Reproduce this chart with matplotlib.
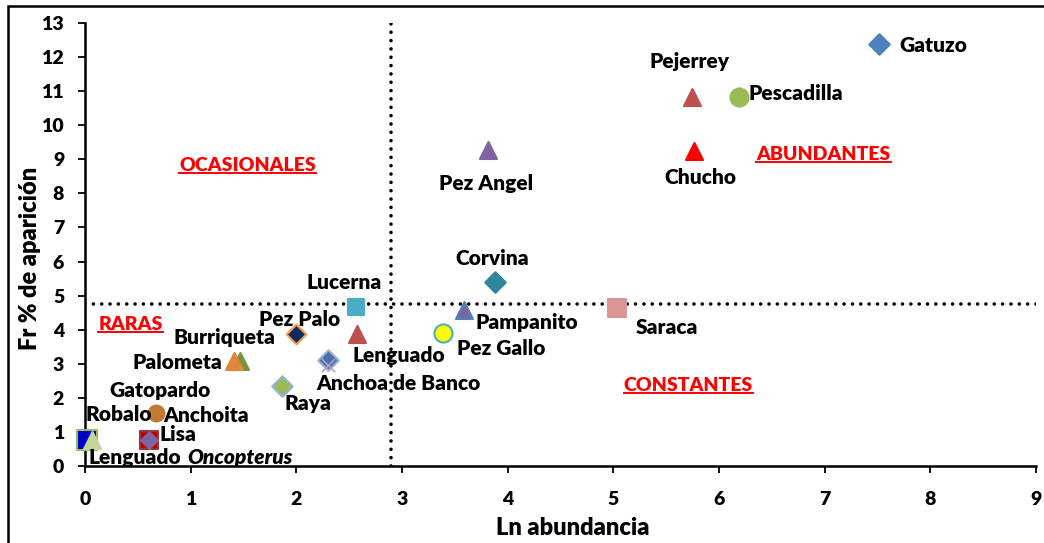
import matplotlib
matplotlib.use("Agg")
import matplotlib.pyplot as plt
from matplotlib.lines import Line2D
from matplotlib.patches import Rectangle

plt.rcParams['font.family'] = ['Lato', 'DejaVu Sans']

# datos: Ln abundancia vs frecuencia de aparición
especies = ['Gatuzo', 'Pejerrey', 'Pescadilla', 'Chucho', 'Pez Angel', 'Corvina',
            'Lucerna', 'Pampanito', 'Saraca', 'Pez Gallo', 'Pez Palo', 'Lenguado',
            'Anchoa de Banco', '', 'Raya', 'Burriqueta', 'Palometa', 'Gatopardo',
            'Lisa', '', 'Lenguado Oncopterus']
ln_abund = [7.51, 5.74, 6.19, 5.76, 3.81, 3.88,
            2.56, 3.59, 5.03, 3.39, 2.00, 2.57,
            2.30, 2.30, 1.86, 1.47, 1.41, 0.67,
            0.61, 0.02, 0.07]
frec = [12.38, 10.83, 10.83, 9.24, 9.27, 5.40,
        4.67, 4.58, 4.64, 3.90, 3.87, 3.87,
        3.11, 2.95, 2.35, 3.08, 3.08, 1.56,
        0.77, 0.77, 0.77]

limite_x = 2.9
limite_y = 4.75

# estilo de cada marcador
marcas = ['D', '^', 'o', '^', '^', 'D',
          's', '^', 's', 'o', 'D', '^',
          'D', 'x', 'D', '^', '^', 'o',
          's', 's', '^']
relleno = ['#4F81BD', '#C0504D', '#9BBB59', '#FF0000', '#8064A2', '#31859C',
           '#4BACC6', '#8064A2', '#D99694', '#FFFF00', '#0F2A5F', '#C0504D',
           '#4A70A8', '#B3A2C7', '#9BBB59', '#77933C', '#E0873A', '#C27A30',
           '#C00000', '#0000CC', '#C3D69B']
borde = ['#4F81BD', '#C0504D', '#9BBB59', '#FF0000', '#8064A2', '#31859C',
         '#4BACC6', '#4F81BD', '#D99694', '#4BACC6', '#F79646', '#C0504D',
         '#95B3D7', '#B3A2C7', '#95B3D7', '#77933C', '#E0873A', '#C27A30',
         '#953735', '#9BBB59', '#C3D69B']
tam = [110, 150, 170, 150, 150, 110,
       130, 150, 150, 170, 100, 150,
       110, 90, 110, 150, 150, 130,
       170, 190, 150]

# posición de las etiquetas (desplazamiento en píxeles, alineación)
etq = [(21, -1, 'left'), (-2, 35, 'center'), (9, 3, 'left'), (7, -26, 'center'),
       (-2, -33, 'center'), (-3, 23, 'center'), (-11, 24, 'center'), (11, -13, 'left'),
       (19, -20, 'left'), (14, -15, 'left'), (3, 15, 'center'), (-4, -21, 'left'),
       (-12, -23, 'left'), (0, 0, 'left'), (3, -18, 'left'), (-16, 24, 'center'),
       (-12, -1, 'right'), (4, 22, 'center'), (10, 5, 'left'), (0, 0, 'left'),
       (-4, -18, 'left')]

PESO = 'heavy'
FS = 15

fig = plt.figure(figsize=(10.44, 5.43), dpi=100)
ax = fig.add_axes([85 / 1044, 1 - 466 / 543, (1036 - 85) / 1044, (466 - 23) / 543])

ax.plot([limite_x, limite_x], [0, 13], color='black', lw=2.6,
        linestyle=(0, (0.01, 2.3)), dash_capstyle='round', zorder=1)
ax.plot([0, 9], [limite_y, limite_y], color='black', lw=2.6,
        linestyle=(0, (0.01, 2.3)), dash_capstyle='round', zorder=1)

for i in range(len(especies)):
    z = 3
    if especies[i] == 'Lenguado Oncopterus':
        z = 4
    if marcas[i] == 'x':
        ax.scatter(ln_abund[i], frec[i], marker='x', s=tam[i], c=relleno[i],
                   linewidths=1.2, zorder=z, clip_on=False)
    else:
        ax.scatter(ln_abund[i], frec[i], marker=marcas[i], s=tam[i], c=relleno[i],
                   edgecolors=borde[i], linewidths=1.5, zorder=z, clip_on=False)
# diamante violeta sobre Lisa
ax.scatter(ln_abund[18], frec[18], marker='D', s=80, c='#8064A2', zorder=5)

for i, nombre in enumerate(especies):
    if not nombre:
        continue
    dx, dy, ha = etq[i]
    if nombre == 'Lenguado Oncopterus':
        t = ax.annotate('Lenguado', (ln_abund[i], frec[i]), xytext=(dx, dy),
                        textcoords='offset pixels', ha=ha, va='center',
                        fontsize=FS, fontweight=PESO, zorder=6)
        fig.canvas.draw()
        bb = t.get_window_extent()
        ax.annotate('Oncopterus', (ln_abund[i], frec[i]),
                    xytext=(dx + bb.width + 6, dy), textcoords='offset pixels',
                    ha='left', va='center', fontsize=FS, fontweight=PESO,
                    fontstyle='italic', zorder=6)
        continue
    ax.annotate(nombre, (ln_abund[i], frec[i]), xytext=(dx, dy),
                textcoords='offset pixels', ha=ha, va='center',
                fontsize=FS, fontweight=PESO, zorder=6)
# etiquetas extra del círculo marrón
ax.annotate('Robalo', (ln_abund[17], frec[17]), xytext=(-4, -2),
            textcoords='offset pixels', ha='right', va='center', fontsize=FS,
            fontweight=PESO)
ax.annotate('Anchoita', (ln_abund[17], frec[17]), xytext=(7, -3),
            textcoords='offset pixels', ha='left', va='center', fontsize=FS,
            fontweight=PESO)

# categorías de los cuadrantes
cuadrantes = ['OCASIONALES', 'ABUNDANTES', 'RARAS', 'CONSTANTES']
cx = [1.54, 6.99, 0.43, 5.71]
cy = [8.83, 9.13, 4.14, 2.35]
textos_cuad = []
for nombre, x, y in zip(cuadrantes, cx, cy):
    textos_cuad.append(ax.text(x, y, nombre, color='#FF0000', fontsize=14,
                               fontweight=PESO, ha='center', va='center'))

ax.set_xlim(0, 9)
ax.set_ylim(0, 13)
ax.set_xticks(range(0, 10))
ax.set_yticks(range(0, 14))
ax.spines['top'].set_visible(False)
ax.spines['right'].set_visible(False)
ax.spines['left'].set_linewidth(1.8)
ax.spines['bottom'].set_linewidth(1.8)
ax.tick_params(axis='both', direction='out', length=5, width=1.3, labelsize=14)
ax.tick_params(axis='x', pad=13)
ax.tick_params(axis='y', pad=10)
for lbl in ax.get_xticklabels() + ax.get_yticklabels():
    lbl.set_fontweight(PESO)

fig.text(573 / 1044, 1 - 528 / 543, 'Ln abundancia', ha='center', va='center',
         fontsize=17, fontweight=PESO)
fig.text(30 / 1044, 1 - 258 / 543, 'Fr % de aparición', ha='center', va='center',
         rotation=90, fontsize=17, fontweight=PESO)

# marco exterior
fig.patches.append(Rectangle((8 / 1044, -0.05), 1.2, 1 - 6 / 543 + 0.05,
                             transform=fig.transFigure, fill=False,
                             edgecolor='black', lw=1.8))

# subrayado de las categorías
fig.canvas.draw()
for t in textos_cuad:
    bb = t.get_window_extent()
    yl = bb.y0 + 1
    fig.add_artist(Line2D([bb.x0 / 1044, bb.x1 / 1044], [yl / 543, yl / 543],
                          transform=fig.transFigure, color='#FF0000', lw=1.4))

fig.savefig('out.png', dpi=100)
